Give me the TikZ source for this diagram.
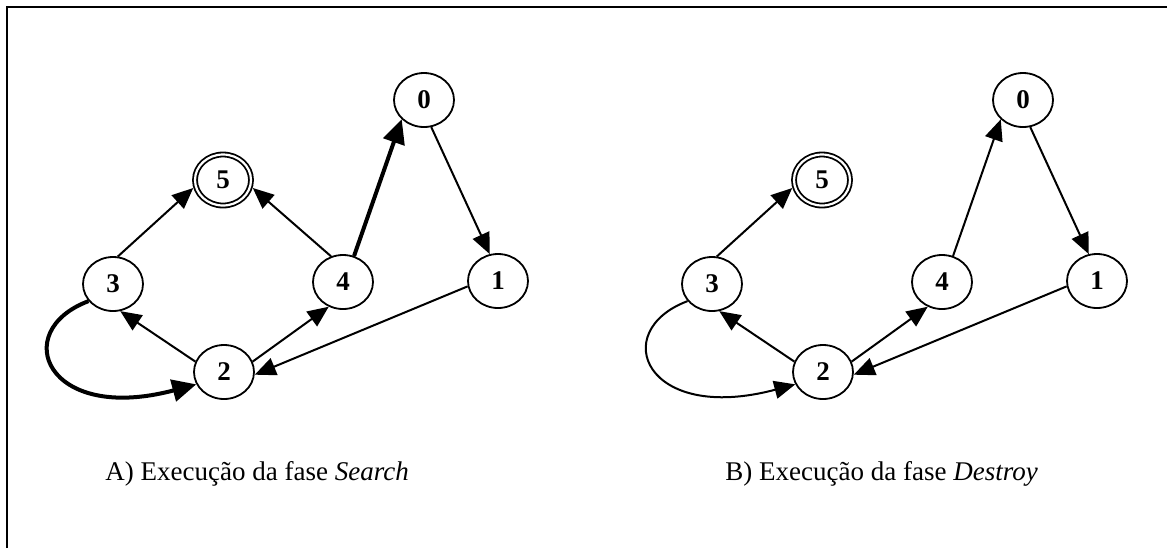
\documentclass[tikz,border=0pt]{standalone}
\usepackage{fontspec}
\setmainfont{Liberation Serif}
\usetikzlibrary{arrows.meta, shapes, positioning, calc}

\tikzset{
  state/.style={ellipse, draw, line width=0.9pt, minimum width=30pt,
                minimum height=27pt, inner sep=0pt,
                font=\fontsize{13.5}{16}\selectfont\bfseries},
  final/.style={state, double, double distance=1.1pt, minimum width=28pt,
                minimum height=25.5pt, outer sep=1.5pt},
  trans/.style={-{Triangle[length=10.5pt,width=9pt]}, line width=1pt},
  hot/.style={-{Triangle[length=12pt,width=11pt]}, line width=2pt},
  caption/.style={anchor=base west, inner sep=0pt,
                  font=\fontsize{13.5}{16}\selectfont}
}

\begin{document}
\begin{tikzpicture}[x=0.5pt, y=-0.5pt]
      \useasboundingbox (0,0) rectangle (1167,548);
      % Frame
      \draw[line width=1.3pt] (7,548) -- (7,7) -- (1167,7);
      % States, left graph (a) and right graph (b)
      \foreach \p/\dx in {a/0, b/599} {
        \node[state] (\p0) at (424+\dx,100) {0};
        \node[state] (\p1) at (498+\dx,281) {1};
        \node[state] (\p2) at (224+\dx,372) {2};
        \node[state] (\p3) at (113+\dx,284) {3};
        \node[state] (\p4) at (343+\dx,282) {4};
        \node[final] (\p5) at (223+\dx,180) {5};
      }
      % Transitions common to both
      \foreach \p in {a,b} {
        \draw[trans] (\p3.80) -- (\p5.195);
        \draw[trans] (\p0.285) -- (\p1.107);
        \draw[trans] (\p1.190) -- (\p2.355);
        \draw[trans] (\p2.160) -- (\p3.285);
        \draw[trans] (\p2.20) -- (\p4.240);
      }
      % Search
      \draw[trans] (a4.115) -- (a5.345);
      \draw[hot] (a4.67) -- (a0.221);
      \draw[hot] (a3.215) .. controls +(-80,30) and +(-150,40) .. (a2.204);
      % Destroy
      \draw[trans] (b4.67) -- (b0.221);
      \draw[trans] (b3.215) .. controls +(-80,30) and +(-150,40) .. (b2.204);
      % Captions
      \node[caption] (capa) at (105,480) {A) Execução da fase \textit{Search}};
      \node[caption] (capb) at (725,480) {B) Execução da fase \textit{Destroy}};
\end{tikzpicture}
\end{document}
